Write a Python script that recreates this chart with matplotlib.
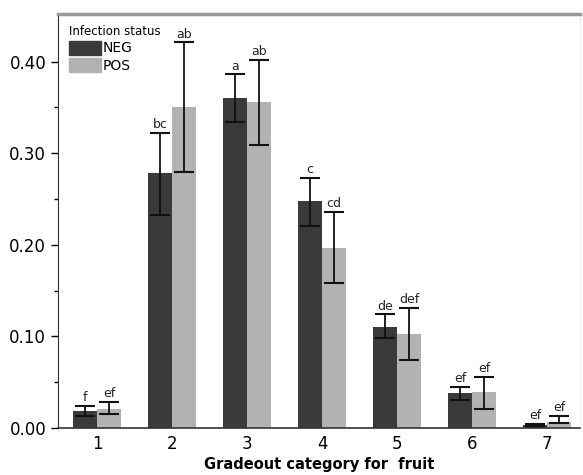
import numpy as np
import matplotlib.pyplot as plt
from matplotlib.patches import Patch

# =========================
# DATA
# =========================
categories = [1, 2, 3, 4, 5, 6, 7]

neg_mean = [0.018, 0.278, 0.360, 0.248, 0.110, 0.038, 0.003]
neg_low = [0.013, 0.233, 0.334, 0.221, 0.098, 0.031, 0.002]
neg_high = [0.024, 0.322, 0.386, 0.273, 0.124, 0.045, 0.004]
neg_letters = ["f", "bc", "a", "c", "de", "ef", "ef"]

pos_mean = [0.021, 0.350, 0.356, 0.196, 0.103, 0.039, 0.007]
pos_low = [0.015, 0.280, 0.309, 0.158, 0.074, 0.021, 0.005]
pos_high = [0.028, 0.421, 0.402, 0.236, 0.131, 0.056, 0.013]
pos_letters = ["ef", "ab", "ab", "cd", "def", "ef", "ef"]

neg_color = "#3a3a3a"
pos_color = "#b2b2b2"

# =========================
# PLOT
# =========================
fig = plt.figure(figsize=(5.83, 4.75), dpi=100)
ax = fig.add_axes([0.0995, 0.099, 0.8955, 0.8715])

x = np.array(categories, dtype=float)
w = 0.32

ax.bar(x - w / 2, neg_mean, width=w, color=neg_color, zorder=2)
ax.bar(x + w / 2, pos_mean, width=w, color=pos_color, zorder=2)

for xs, m, lo, hi, lab in [(x - w / 2, neg_mean, neg_low, neg_high, neg_letters),
                           (x + w / 2, pos_mean, pos_low, pos_high, pos_letters)]:
    m = np.array(m)
    yerr = [m - np.array(lo), np.array(hi) - m]
    ax.errorbar(xs, m, yerr=yerr, fmt="none", ecolor="#111111",
                elinewidth=1.3, capsize=7, capthick=1.5, zorder=3)
    for xi, hi_i, t in zip(xs, hi, lab):
        ax.text(xi, hi_i + 0.002, t, ha="center", va="bottom",
                fontsize=9, color="#222222")

ax.set_xlim(0.48, 7.44)
ax.set_ylim(0, 0.452)
ax.set_xticks(categories)
ax.set_xticklabels([str(c) for c in categories], fontsize=12)
ax.set_yticks([0.0, 0.1, 0.2, 0.3, 0.4])
ax.set_yticklabels(["0.00", "0.10", "0.20", "0.30", "0.40"], fontsize=12)
ax.set_yticks(np.arange(0.05, 0.45, 0.1), minor=True)
ax.tick_params(axis="y", which="major", length=5, width=1, direction="out")
ax.tick_params(axis="y", which="minor", length=3, width=1, direction="out")
ax.tick_params(axis="x", length=0, pad=5)

ax.spines["top"].set_color("#999999")
ax.spines["top"].set_linewidth(2.5)
ax.spines["right"].set_color("#eeeeee")
ax.spines["left"].set_color("#333333")
ax.spines["bottom"].set_color("#333333")
ax.spines["bottom"].set_linewidth(1.2)

ax.set_xlabel("Gradeout category for  fruit", fontsize=10.5, fontweight="bold",
              labelpad=3)

handles = [Patch(color=neg_color, label="NEG"), Patch(color=pos_color, label="POS")]
leg = ax.legend(handles=handles, title="Infection status", loc="upper left",
                frameon=False, fontsize=10, title_fontsize=8.5,
                handlelength=2.3, handleheight=1.15, handletextpad=0.1,
                labelspacing=0.2, borderaxespad=0.4, alignment="left")

fig.savefig("out.png", dpi=100)
